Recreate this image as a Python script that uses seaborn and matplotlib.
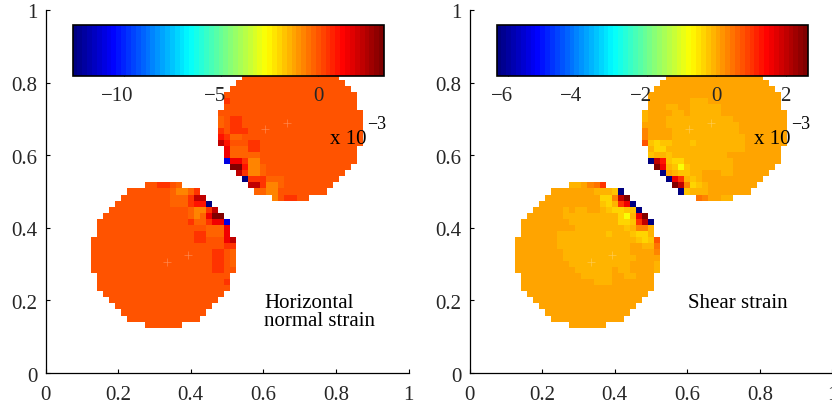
import matplotlib.pyplot as plt
import numpy as np
import pandas as pd
import seaborn as sns
from matplotlib.colors import LinearSegmentedColormap
from matplotlib.transforms import ScaledTranslation

# Strain levels (x 10^-3) that the letters in the disc maps stand for
level_codes = list("bBYyoaAcdefgrhk")
horizontal_levels = [-12.4, -11.0, -2.6, -2.06, -1.62, -1.29, -1.13, -0.66, -0.35, 0.02, 0.44, 0.9, 1.38, 2.26, 3.37]
shear_levels = [-6.24, -5.43, -0.8, -0.37, -0.23, -0.09, 0.05, 0.33, 0.5, 0.75, 0.99, 1.25, 1.52, 2.01, 2.64]

# Grid index of the first column and the top row of each disc
lower_disc_origin = (8, 31)
upper_disc_origin = (29, 52)

# Disc maps, top row first. Rows are centred on the 24 cell wide disc
horizontal_lower = [
    "eeffed",
    "e" * 7 + "dccdf",
    "e" * 8 + "dddfhh",
    "e" * 9 + "dddfggb",
    "e" * 13 + "dccfh",
    "e" * 14 + "dcdrkk",
    "e" * 15 + "fddfrrB",
    "e" * 18 + "dddr",
    "e" * 16 + "ffdddr",
    "e" * 17 + "ffeeerh",
    "e" * 22 + "ff",
    "e" * 20 + "ffed",
    "e" * 20 + "ffed",
    "e" * 20 + "ffed",
    "e" * 20 + "ffee",
    "e" * 22,
    "e" * 21 + "f",
    "e" * 22,
    "e" * 20,
    "e" * 18,
    "e" * 16,
    "e" * 14,
    "e" * 12,
    "e" * 6,
]
horizontal_upper = [
    "e" * 6,
    "e" * 12,
    "e" * 14,
    "e" * 16,
    "e" * 18,
    "e" * 20,
    "e" * 22,
    "f" + "e" * 21,
    "e" * 22,
    "e" * 24,
    "deff" + "e" * 20,
    "deff" + "e" * 20,
    "fefff" + "e" * 19,
    "gfdd" + "e" * 20,
    "hgeeeff" + "e" * 17,
    "rdddff" + "e" * 16,
    "rddddd" + "e" * 16,
    "Brrfcc" + "e" * 16,
    "kkgccd" + "e" * 14,
    "hfccd" + "e" * 13,
    "bfffddd" + "e" * 9,
    "hhfccd" + "e" * 8,
    "ddcc" + "e" * 8,
    "ceffee",
]
shear_lower = [
    "aaAcdf",
    "A" * 7 + "aaaob",
    "A" * 9 + "yychk",
    "A" * 10 + "oyafrb",
    "AAAAAaAaaAAaoyyoob",
    "A" * 6 + "a" * 9 + "yYark",
    "A" * 8 + "a" * 8 + "yyofhb",
    "A" * 9 + "a" * 8 + "oacca",
    "A" * 6 + "a" * 8 + "oaaaoyya",
    "A" * 7 + "a" * 13 + "oyoe",
    "A" * 7 + "a" * 12 + "AAaad",
    "A" * 8 + "a" * 11 + "AAAAc",
    "A" * 8 + "a" * 12 + "AAAA",
    "A" * 9 + "a" * 10 + "AAAAa",
    "A" * 10 + "a" * 6 + "AaaAAAAa",
    "A" * 10 + "a" * 5 + "AAaaAAA",
    "A" * 12 + "aaa" + "A" * 7,
    "A" * 22,
    "A" * 20,
    "A" * 18,
    "A" * 16,
    "A" * 14,
    "A" * 12,
    "A" * 6,
]
shear_upper = [
    "A" * 6,
    "A" * 12,
    "A" * 14,
    "A" * 16,
    "A" * 18,
    "A" * 20,
    "A" * 22,
    "A" * 7 + "aaa" + "A" * 12,
    "AAAaaAAaaaaa" + "A" * 10,
    "aAAAAaaAaaaaa" + "A" * 11,
    "aAAA" + "a" * 11 + "A" * 9,
    "AAAA" + "a" * 12 + "A" * 8,
    "cAAAA" + "a" * 11 + "A" * 8,
    "cAAAA" + "a" * 12 + "A" * 7,
    "eoyooaaao" + "a" * 8 + "A" * 7,
    "ayy" + "a" * 13 + "A" * 6,
    "oaao" + "a" * 9 + "A" * 9,
    "bhgoyy" + "a" * 8 + "A" * 8,
    "kraoYo" + "a" * 7 + "A" * 7,
    "bAaooaaAAAaa" + "A" * 6,
    "brfaoa" + "A" * 10,
    "khcyoa" + "A" * 8,
    "boaaa" + "A" * 7,
    "dcAAaa",
]

# Faint specks on the discs, in axis units
speck_x = [0.605, 0.666, 0.335, 0.392]
speck_y = [0.672, 0.69, 0.305, 0.325]

axis_ticks = [0, 0.2, 0.4, 0.6, 0.8, 1]
axis_labels = ["0", "0.2", "0.4", "0.6", "0.8", "1"]
horizontal_ticks = [-10, -5, 0]
shear_ticks = [-6, -4, -2, 0, 2]

plt.rcParams["font.family"] = ["Liberation Serif", "DejaVu Serif"]
sns.set_style("white")
plt.rcParams["font.family"] = ["Liberation Serif", "DejaVu Serif"]
plt.rcParams["text.color"] = "black"

W, H = 832, 408
font = 15

jet = LinearSegmentedColormap.from_list(
    "matlab_jet",
    [
        (0, (0, 0, 0.5)),
        (1 / 8, (0, 0, 1)),
        (3 / 8, (0, 1, 1)),
        (5 / 8, (1, 1, 0)),
        (7 / 8, (1, 0, 0)),
        (1, (0.5, 0, 0)),
    ],
    N=64,
)


def build_grid(lower, upper, levels):
    lookup = dict(zip(level_codes, levels))
    grid = np.full((61, 61), np.nan)
    for rows, (col0, row0) in [(lower, lower_disc_origin), (upper, upper_disc_origin)]:
        for r, row in enumerate(rows):
            for c, code in enumerate(row.center(24)):
                if code != " ":
                    grid[row0 - r, col0 + c] = lookup[code]
    return pd.DataFrame(grid)


def shift_label(fig, label, dx_px, dy_px):
    label.set_transform(label.get_transform() + ScaledTranslation(dx_px / 100, dy_px / 100, fig.dpi_scale_trans))


def draw_panel(fig, left_px, grid, vmin, vmax, ticks, bar_px):
    ax = fig.add_axes([left_px / W, 1 - 373 / H, 363 / W, 363 / H])
    cax = fig.add_axes([bar_px[0] / W, 1 - 75.5 / H, (bar_px[1] - bar_px[0]) / W, 51 / H])
    cax.set_zorder(2)

    sns.heatmap(
        grid,
        ax=ax,
        cmap=jet,
        vmin=vmin,
        vmax=vmax,
        cbar_ax=cax,
        cbar_kws={"orientation": "horizontal", "ticks": ticks},
        xticklabels=False,
        yticklabels=False,
    )

    # cell i is centred on i/60, so the 0-1 axis starts half a cell in
    ax.set_xlim(0.5, 60.5)
    ax.set_ylim(0.5, 60.5)
    positions = [t * 60 + 0.5 for t in axis_ticks]
    ax.set_xticks(positions, axis_labels, rotation=0, fontsize=font)
    ax.set_yticks(positions, axis_labels, rotation=0, fontsize=font)
    ax.tick_params(direction="in", length=3, width=0.8, color="black", left=True, bottom=True)
    ax.tick_params(axis="x", pad=9)
    ax.tick_params(axis="y", pad=6)
    for label in ax.get_yticklabels():
        shift_label(fig, label, 0, -1.5)
    ax.patch.set_visible(False)
    sns.despine(ax=ax)
    for side in ["left", "bottom"]:
        ax.spines[side].set_visible(True)
        ax.spines[side].set_color("black")
        ax.spines[side].set_linewidth(0.9)

    ax.plot(
        [x * 60 + 0.5 for x in speck_x],
        [y * 60 + 0.5 for y in speck_y],
        linestyle="none",
        marker="+",
        markersize=6,
        markeredgewidth=0.5,
        color="white",
        alpha=0.3,
    )

    cax.tick_params(
        direction="in", length=2, width=0.8, color="black", top=True, bottom=True, pad=8, labelsize=font
    )
    cax.set_xticks(ticks, [str(t).replace("-", "\u2212") for t in ticks])
    # minus signs hang to the left of the tick
    for tick, label in zip(ticks, cax.get_xticklabels()):
        if tick < 0:
            shift_label(fig, label, -6, 0)
    colorbar = ax.collections[0].colorbar
    colorbar.outline.set_visible(True)
    colorbar.outline.set_edgecolor("black")
    colorbar.outline.set_linewidth(1.2)
    return ax


fig = plt.figure(figsize=(W / 100, H / 100), dpi=100)

ax_h = draw_panel(
    fig,
    45.5,
    build_grid(horizontal_lower, horizontal_upper, horizontal_levels),
    -12.62,
    3.37,
    horizontal_ticks,
    (72.5, 384),
)
ax_s = draw_panel(
    fig,
    469.5,
    build_grid(shear_lower, shear_upper, shear_levels),
    -6.33,
    2.64,
    shear_ticks,
    (496.5, 808),
)

ax_h.text(36.6, 11.2, "Horizontal", fontsize=font, va="baseline")
ax_h.text(36.6, 8.3, "normal strain", fontsize=font, va="baseline")
ax_s.text(36.6, 11.2, "Shear strain", fontsize=font, va="baseline")

for x_px in [330, 754]:
    fig.text(x_px / W, 1 - 143.5 / H, "x 10", fontsize=font, va="baseline")
    fig.text((x_px + 37) / W, 1 - 129 / H, "\u22123", fontsize=13, va="baseline")

plt.savefig("out.png", dpi=100)
